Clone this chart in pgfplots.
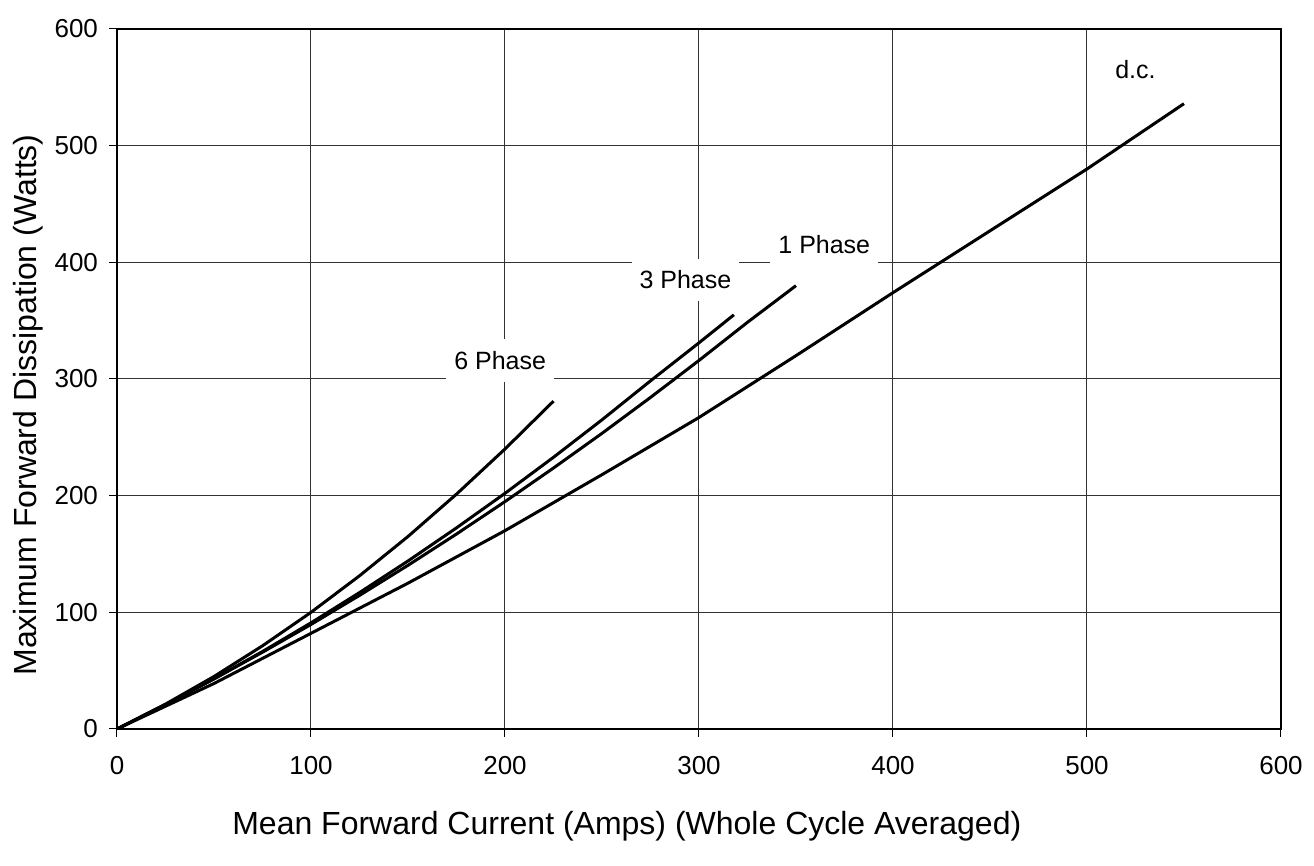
\documentclass[border=0pt]{standalone}
\usepackage{pgfplots}
\pgfplotsset{compat=1.18}
\usepackage{fontspec}
\setmainfont{Liberation Sans}

\begin{document}
\begin{tikzpicture}
  \path[use as bounding box] (-58.5pt,-68.5pt) rectangle (598.5pt,364.5pt);
  \begin{axis}[
    scale only axis,
    width=582pt, height=350pt,
    xmin=0, xmax=600,
    ymin=0, ymax=600,
    xtick={0,100,...,600},
    ytick={0,100,...,600},
    xtick pos=left, ytick pos=left,
    tick align=outside,
    major tick length=4pt,
    tick style={black, line width=0.5pt},
    grid=major,
    grid style={black!80, line width=0.5pt},
    axis line style={line width=1pt},
    /pgf/number format/assume math mode=true,
    ticklabel style={font=\fontsize{13}{15}\selectfont},
    xticklabel style={yshift=-6pt},
    yticklabel style={xshift=-2pt},
    xlabel={Mean Forward Current (Amps) (Whole Cycle Averaged)},
    ylabel={Maximum Forward Dissipation (Watts)},
    label style={font=\fontsize{16}{19}\selectfont},
    xlabel style={at={(axis description cs:0.438,-0.1386)}, anchor=center},
    ylabel style={at={(axis description cs:-0.0765,0.463)}, anchor=center},
    ]

    % d.c.
    \addplot[black, line width=1.5pt, no markers] coordinates {
      (0,0)(50,39)(100,82)(150,125)(200,170)(250,218)(300,267)
      (350,320)(400,374)(450,427)(500,480)(550,536)
    };
    % 1 Phase
    \addplot[black, line width=1.5pt, no markers] coordinates {
      (0,0)(25,20.9)(50,42.9)(75,65.8)(100,89.6)(125,114.5)(150,140.3)
      (175,167.1)(200,194.9)(225,223.7)(250,253.4)(275,284.2)(300,315.9)
      (325,348.6)(350,380)
    };
    % 3 Phase
    \addplot[black, line width=1.5pt, no markers] coordinates {
      (0,0)(25,20.9)(50,43)(75,66.4)(100,91)(125,116.9)(150,144)
      (175,172.4)(200,202)(225,232.9)(250,265)(275,298.4)(300,331)
      (318,355)
    };
    % 6 Phase
    \addplot[black, line width=1.5pt, no markers] coordinates {
      (0,0)(25,21.3)(50,45)(75,71.3)(100,100)(125,131.3)(150,165)
      (175,201.3)(200,240)(225,281)
    };

    \begin{scope}[every node/.style={fill=white, inner xsep=4pt, inner ysep=6pt,
        font=\fontsize{12.5}{15}\selectfont}]
      \node at (axis cs:197.5,316) {6 Phase};
      \node at (axis cs:293,385) {3 Phase};
      \node at (axis cs:364.6,415) {1 Phase};
      \node at (axis cs:525,565) {d.c.};
    \end{scope}
  \end{axis}
\end{tikzpicture}
\end{document}
